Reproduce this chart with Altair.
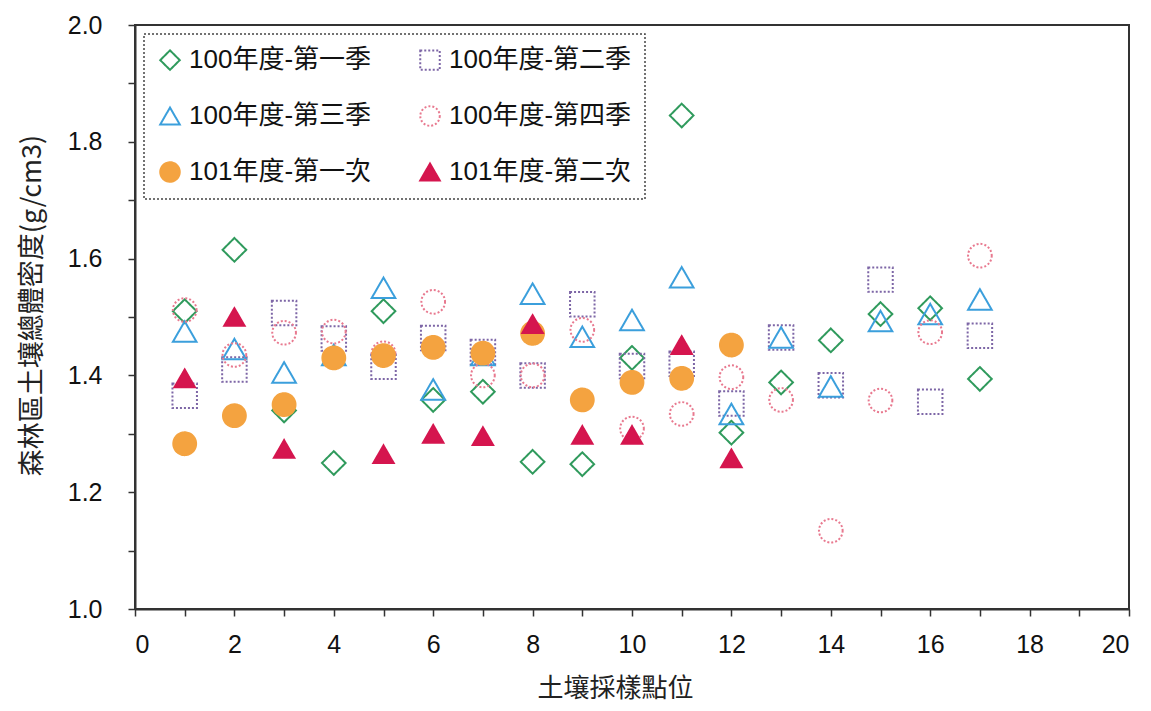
import altair as alt
import pandas as pd

# ---- data ----
series_names = ["100年度-第一季", "100年度-第二季", "100年度-第三季",
                "100年度-第四季", "101年度-第一次", "101年度-第二次"]

x_17 = [1, 2, 3, 4, 5, 6, 7, 8, 9, 10, 11, 12, 13, 14, 15, 16, 17]
s1_vals = [1.51, 1.615, 1.34, 1.25, 1.51, 1.358, 1.372, 1.252, 1.248, 1.43, 1.845, 1.302, 1.388, 1.46, 1.505, 1.515, 1.394]
s2_vals = [1.365, 1.41, 1.507, 1.463, 1.415, 1.464, 1.44, 1.40, 1.522, 1.416, 1.42, 1.352, 1.465, 1.383, 1.564, 1.355, 1.468]
s3_vals = [1.475, 1.445, 1.405, 1.435, 1.55, 1.376, 1.435, 1.54, 1.466, 1.495, 1.568, 1.334, 1.465, 1.381, 1.493, 1.505, 1.53]
s4_vals = [1.512, 1.435, 1.473, 1.475, 1.438, 1.526, 1.40, 1.40, 1.478, 1.309, 1.334, 1.397, 1.358, 1.134, 1.357, 1.474, 1.605]

x_s5 = [1, 2, 3, 4, 5, 6, 7, 8, 9, 10, 11, 12]
s5_vals = [1.283, 1.331, 1.35, 1.43, 1.434, 1.448, 1.438, 1.472, 1.358, 1.388, 1.395, 1.452]

x_s6 = [1, 2, 3, 5, 6, 7, 8, 9, 10, 11, 12]
s6_vals = [1.395, 1.50, 1.274, 1.265, 1.30, 1.296, 1.488, 1.298, 1.298, 1.452, 1.258]

x_ticks = list(range(0, 21))
y_ticks = [1.0, 1.1, 1.2, 1.3, 1.4, 1.5, 1.6, 1.7, 1.8, 1.9, 2.0]

# ---- styles (per series, same order as series_names) ----
shapes = ["diamond", "square", "triangle-up", "circle", "circle", "triangle-up"]
strokes = ["#2f9a5c", "#7d66a6", "#3b9fdc", "#e8798f", "#f4a340", "#d5154e"]
fills = ["transparent", "transparent", "transparent", "transparent", "#f4a340", "#d5154e"]
dashes = [[1, 0], [2, 2], [1, 0], [2, 2], [1, 0], [1, 0]]
sizes = [560, 600, 560, 560, 520, 420]

# legend fills its columns top-down, so order the domain to read row by row
legend_order = [0, 2, 4, 1, 3, 5]
dom = [series_names[k] for k in legend_order]
rng_shape = [shapes[k] for k in legend_order]
rng_stroke = [strokes[k] for k in legend_order]
rng_fill = [fills[k] for k in legend_order]
rng_dash = [dashes[k] for k in legend_order]

series_data = [
    (series_names[0], x_17, s1_vals),
    (series_names[1], x_17, s2_vals),
    (series_names[2], x_17, s3_vals),
    (series_names[3], x_17, s4_vals),
    (series_names[4], x_s5, s5_vals),
    (series_names[5], x_s6, s6_vals),
]

legend = alt.Legend(
    title=None,
    orient="none",
    legendX=9,
    legendY=9,
    columns=2,
    columnPadding=44,
    rowPadding=28,
    padding=13,
    symbolSize=380,
    symbolStrokeWidth=2,
    labelFontSize=26,
    labelFont="Liberation Sans, Noto Sans CJK TC",
    labelColor="#111",
    labelOffset=6,
    labelLimit=400,
    strokeColor="#444",
    fillColor="white",
)

layers = []
for i, (name, xs, ys) in enumerate(series_data):
    d = pd.DataFrame({"series": [name] * len(xs), "x": xs, "y": ys})
    layer = alt.Chart(d).mark_point(filled=False, strokeWidth=2, opacity=1, size=sizes[i]).encode(
        x=alt.X("x:Q",
                scale=alt.Scale(domain=[0, 20], nice=False, zero=False),
                axis=alt.Axis(title="土壤採樣點位", values=x_ticks,
                              labelExpr="datum.value % 2 == 0 ? datum.label : ''",
                              titleX=480, titleY=79, titleBaseline="middle",
                              titleAlign="center", titleFontSize=26)),
        y=alt.Y("y:Q",
                scale=alt.Scale(domain=[1.0, 2.0], nice=False, zero=False),
                axis=alt.Axis(title="森林區土壤總體密度(g/cm3)", values=y_ticks,
                              labelExpr="round(datum.value*10) % 2 == 0 ? format(datum.value, '.1f') : ''",
                              labelPadding=26,
                              titleX=-103, titleY=280, titleBaseline="middle",
                              titleAlign="center", titleAngle=-90, titleFontSize=27)),
        shape=alt.Shape("series:N", scale=alt.Scale(domain=dom, range=rng_shape), legend=legend),
        stroke=alt.Stroke("series:N", scale=alt.Scale(domain=dom, range=rng_stroke), legend=legend),
        fill=alt.Fill("series:N", scale=alt.Scale(domain=dom, range=rng_fill), legend=legend),
        strokeDash=alt.StrokeDash("series:N", scale=alt.Scale(domain=dom, range=rng_dash), legend=legend),
    )
    layers.append(layer)

chart = alt.layer(*layers).properties(
    width=994,
    height=584,
    autosize=alt.AutoSizeParams(type="none"),
    padding={"left": 127, "top": 17, "right": 14, "bottom": 94},
).configure_view(
    stroke="#333", strokeWidth=2
).configure_axis(
    grid=False,
    domainColor="#333",
    domainWidth=2,
    tickColor="#333",
    tickSize=7,
    tickWidth=1.5,
    labelFont="Liberation Sans",
    labelFontSize=25,
    labelColor="#111",
    titleFont="Noto Sans CJK TC",
    titleFontWeight="normal",
    titleColor="#222",
).configure_axisX(
    labelPadding=16,
).configure_legend(
    strokeDash=[2, 2],
    strokeWidth=1.5,
)

chart.save("out.html", embed_options={"renderer": "svg", "actions": False})
